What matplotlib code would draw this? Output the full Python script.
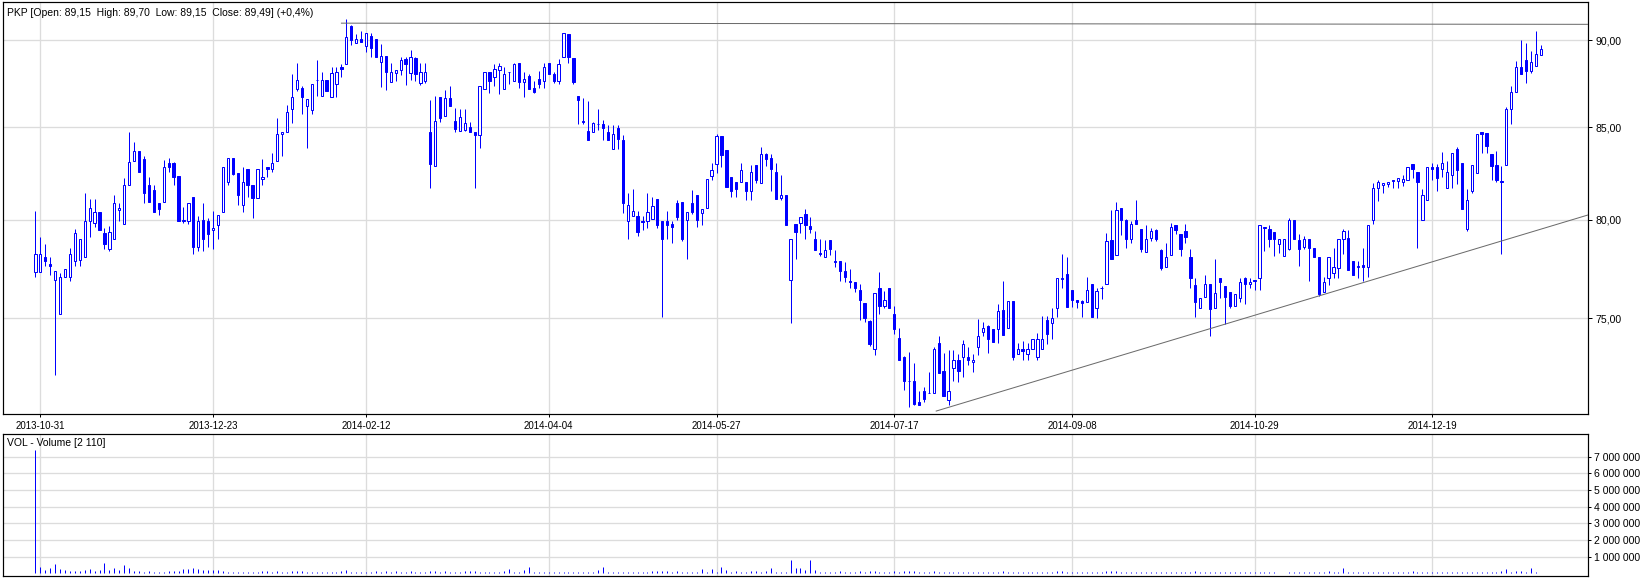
import matplotlib
matplotlib.use("Agg")
import matplotlib.pyplot as plt
from matplotlib.ticker import FixedLocator, NullLocator, FuncFormatter

plt.rcParams['font.family'] = ['Liberation Sans', 'DejaVu Sans']

# ---------------- data ----------------
ticker = "PKP"
change_pct = "+0,4%"

open_ = [
    77.29, 77.29, 78.05, 77.71, 76.92, 75.20, 77.08, 77.08, 77.85, 77.93,
    78.05, 79.92, 79.83, 80.41, 79.32, 78.51, 79.02, 80.50, 79.78, 81.85,
    83.15, 83.69, 83.24, 81.85, 81.58, 80.90, 80.95, 83.06, 83.06, 82.35,
    79.92, 79.92, 81.22, 78.61, 79.97, 79.95, 79.46, 79.71, 80.41, 82.00,
    83.29, 82.49, 80.77, 82.71, 81.87, 81.17, 82.16, 82.84, 82.71, 83.15,
    84.64, 84.76, 86.05, 87.14, 87.23, 86.22, 85.95, 87.69, 86.76, 87.69,
    86.72, 87.46, 88.44, 88.61, 90.85, 89.80, 90.06, 89.67, 90.24, 90.06,
    88.70, 89.07, 87.55, 88.05, 88.24, 88.88, 88.05, 88.97, 87.51, 87.64,
    84.73, 82.89, 86.72, 85.61, 86.66, 85.36, 84.82, 84.86, 85.00, 84.73,
    84.55, 87.14, 88.15, 87.84, 88.24, 87.14, 88.13, 87.64, 88.63, 87.58,
    87.93, 87.20, 87.71, 87.64, 88.63, 88.03, 87.64, 89.03, 90.35, 88.97,
    86.75, 85.36, 84.80, 84.71, 85.19, 85.19, 84.73, 83.78, 84.95, 84.28,
    79.92, 80.22, 80.22, 79.95, 79.92, 80.03, 81.08, 79.95, 79.92, 79.80,
    80.90, 80.95, 79.97, 80.90, 81.29, 80.36, 80.61, 82.34, 82.97, 84.53,
    83.72, 82.25, 82.03, 82.03, 82.03, 81.53, 82.95, 81.96, 83.51, 83.29,
    82.57, 81.17, 81.29, 76.92, 79.80, 79.83, 80.29, 79.69, 79.02, 78.27,
    78.10, 78.93, 77.85, 77.85, 77.34, 76.85, 76.83, 76.39, 75.78, 74.87,
    73.52, 76.53, 75.61, 76.53, 75.20, 74.05, 73.13, 71.98, 71.98, 70.98,
    71.52, 71.41, 71.41, 73.81, 72.48, 71.07, 72.59, 72.98, 73.14, 73.13,
    72.90, 73.62, 74.35, 74.64, 74.48, 74.48, 75.40, 74.52, 75.86, 73.27,
    73.52, 73.25, 73.52, 73.14, 73.52, 74.92, 74.76, 75.49, 76.97, 77.20,
    76.39, 75.92, 75.88, 75.83, 76.73, 75.49, 76.51, 76.73, 78.93, 78.17,
    80.60, 79.97, 79.02, 79.97, 79.53, 78.31, 79.07, 79.49, 78.42, 77.56,
    78.17, 79.75, 79.24, 79.44, 78.10, 76.66, 75.49, 76.05, 76.69, 75.49,
    77.03, 76.61, 76.32, 75.63, 76.02, 77.03, 76.73, 76.93, 77.03, 79.58,
    79.53, 79.37, 78.76, 78.14, 78.47, 80.00, 78.93, 78.61, 79.02, 78.56,
    78.05, 76.32, 77.03, 77.25, 77.51, 79.02, 79.07, 77.88, 77.54, 77.66,
    77.54, 79.97, 81.67, 81.87, 81.92, 82.08, 82.08, 82.03, 82.12, 82.97,
    82.53, 79.97, 81.04, 82.84, 82.79, 82.71, 81.71, 82.39, 83.81, 83.02,
    79.53, 81.53, 82.48, 84.71, 84.67, 83.54, 82.93, 82.03, 82.95, 86.03,
    87.00, 88.44, 88.84, 88.19, 88.47, 89.15,
]

high = [
    80.45, 79.10, 78.76, 78.05, 77.34, 77.25, 77.46, 78.53, 79.54, 79.02,
    81.40, 81.08, 81.08, 80.41, 79.58, 79.69, 81.29, 80.90, 82.21, 84.73,
    84.19, 83.69, 83.42, 82.30, 81.85, 80.90, 83.20, 83.33, 83.11, 82.35,
    80.68, 80.90, 81.22, 80.21, 80.90, 80.09, 80.45, 80.27, 82.84, 83.29,
    83.29, 82.49, 82.79, 82.71, 81.87, 82.71, 83.24, 82.84, 83.60, 85.51,
    84.71, 86.24, 88.00, 88.63, 87.33, 86.60, 87.46, 88.85, 88.15, 87.69,
    88.44, 88.44, 88.57, 91.25, 90.88, 90.35, 90.55, 90.39, 90.39, 90.06,
    89.74, 89.07, 88.63, 88.24, 89.03, 89.03, 89.42, 89.03, 88.63, 88.63,
    86.56, 86.75, 86.72, 87.08, 87.33, 86.09, 86.03, 86.00, 85.29, 84.73,
    87.35, 88.15, 88.15, 88.57, 88.63, 88.44, 88.15, 88.67, 88.63, 88.13,
    88.00, 87.64, 88.17, 88.63, 88.63, 88.15, 88.89, 90.39, 90.35, 88.97,
    86.75, 86.66, 86.50, 85.29, 86.03, 85.42, 85.13, 85.13, 85.13, 84.59,
    81.40, 81.62, 80.45, 80.21, 81.40, 81.22, 81.08, 79.95, 80.45, 79.95,
    81.03, 80.95, 80.41, 81.56, 81.29, 80.58, 82.16, 83.02, 84.64, 84.53,
    83.72, 82.25, 82.03, 83.02, 82.03, 82.93, 82.95, 83.90, 83.56, 83.51,
    83.02, 82.39, 81.29, 79.02, 79.80, 80.16, 80.56, 80.16, 79.44, 79.02,
    78.93, 78.93, 78.42, 77.85, 77.80, 77.46, 76.83, 76.73, 75.78, 74.92,
    76.27, 77.29, 76.34, 76.53, 75.59, 74.52, 73.17, 73.38, 72.83, 71.49,
    71.68, 72.43, 73.62, 74.16, 73.33, 73.46, 73.46, 73.27, 73.92, 73.62,
    73.27, 74.97, 74.81, 74.68, 74.48, 75.71, 76.86, 75.86, 75.86, 73.81,
    73.89, 73.81, 74.00, 74.29, 75.11, 75.11, 75.49, 77.00, 78.22, 78.05,
    76.39, 75.92, 75.92, 77.08, 76.73, 76.49, 76.61, 79.29, 80.49, 80.94,
    80.63, 80.05, 79.95, 81.04, 79.53, 79.75, 79.58, 79.54, 78.51, 78.78,
    79.83, 79.75, 79.24, 79.80, 78.47, 77.03, 76.00, 77.15, 76.69, 77.97,
    77.03, 76.61, 76.32, 76.22, 77.03, 77.08, 77.03, 76.93, 79.71, 79.63,
    79.75, 79.37, 79.02, 79.02, 80.12, 80.00, 79.24, 79.15, 79.02, 78.56,
    78.05, 77.08, 78.05, 78.53, 79.02, 79.53, 79.49, 77.88, 77.88, 78.52,
    79.75, 81.94, 82.12, 81.94, 82.03, 82.12, 82.21, 82.39, 82.84, 82.97,
    82.53, 81.62, 82.79, 83.02, 82.97, 83.63, 83.15, 83.56, 83.92, 83.02,
    81.62, 82.93, 84.64, 84.76, 84.67, 83.54, 83.69, 82.88, 86.15, 87.35,
    88.80, 90.00, 89.80, 89.36, 90.53, 89.70,
]

low = [
    77.07, 77.29, 77.63, 77.17, 72.27, 75.20, 77.08, 76.86, 77.63, 77.63,
    78.05, 79.10, 79.61, 79.46, 78.51, 78.39, 79.02, 79.92, 79.78, 81.85,
    83.15, 82.55, 80.90, 80.95, 80.41, 80.27, 80.95, 82.55, 81.85, 79.92,
    79.83, 79.78, 78.25, 78.36, 78.36, 78.61, 78.51, 79.02, 80.41, 81.85,
    82.40, 80.77, 80.41, 81.21, 80.11, 81.17, 81.85, 82.27, 82.55, 83.15,
    83.42, 84.76, 85.23, 87.04, 85.76, 83.87, 85.74, 86.76, 86.76, 87.04,
    86.72, 86.70, 87.84, 88.61, 89.71, 89.80, 89.86, 89.32, 89.03, 89.03,
    87.30, 87.12, 87.55, 87.64, 87.99, 87.36, 87.69, 87.64, 87.36, 87.49,
    81.67, 82.89, 85.29, 85.61, 86.18, 84.71, 84.82, 84.82, 84.71, 81.67,
    83.87, 87.14, 86.91, 87.33, 86.85, 87.14, 87.42, 87.64, 87.20, 86.70,
    87.14, 86.91, 87.20, 87.23, 88.00, 87.49, 87.42, 89.03, 88.63, 87.46,
    85.19, 85.19, 84.28, 84.71, 84.86, 84.28, 84.28, 83.78, 83.78, 80.36,
    79.02, 80.22, 79.15, 79.49, 79.58, 80.03, 79.58, 75.08, 79.02, 78.78,
    80.00, 78.90, 77.97, 80.31, 79.61, 79.75, 80.61, 82.12, 82.48, 82.82,
    81.76, 81.21, 81.21, 82.03, 81.03, 81.04, 81.96, 81.96, 82.88, 81.53,
    81.08, 81.03, 79.71, 74.76, 77.97, 79.32, 79.02, 79.29, 78.41, 78.14,
    78.10, 78.19, 77.54, 76.86, 76.81, 76.53, 76.29, 74.92, 74.81, 73.65,
    73.22, 75.22, 75.49, 75.53, 74.24, 73.00, 71.57, 70.79, 70.87, 70.84,
    70.98, 71.41, 71.41, 72.36, 71.30, 70.87, 72.00, 71.93, 72.15, 72.75,
    72.43, 73.22, 74.13, 73.33, 73.84, 73.81, 74.17, 74.52, 73.00, 73.27,
    73.00, 73.00, 73.52, 73.00, 73.52, 73.76, 74.00, 75.08, 76.49, 75.54,
    75.54, 75.49, 75.08, 75.83, 75.08, 75.03, 75.97, 76.73, 77.95, 78.17,
    79.20, 78.52, 78.78, 79.78, 78.31, 78.31, 78.90, 78.90, 77.41, 77.56,
    78.17, 79.24, 78.14, 78.78, 76.49, 75.08, 75.49, 76.05, 74.13, 75.49,
    75.99, 74.73, 75.49, 75.60, 75.83, 75.73, 76.49, 76.41, 76.41, 78.39,
    78.61, 78.14, 78.27, 78.14, 78.42, 79.02, 77.63, 78.47, 76.86, 78.05,
    76.10, 76.32, 76.66, 77.03, 77.03, 78.22, 77.42, 77.17, 77.03, 76.86,
    77.08, 79.78, 81.00, 81.44, 81.76, 81.67, 81.67, 81.80, 82.12, 82.21,
    78.56, 79.97, 81.04, 82.12, 81.53, 82.28, 81.71, 81.71, 81.89, 80.58,
    79.44, 81.44, 82.48, 83.60, 83.60, 82.12, 82.03, 78.25, 82.95, 85.17,
    87.00, 88.03, 87.49, 88.05, 88.47, 89.15,
]

close = [
    78.22, 78.22, 77.88, 77.63, 77.34, 77.08, 77.46, 78.22, 79.32, 79.02,
    79.95, 80.61, 80.41, 79.46, 78.76, 79.37, 80.90, 80.61, 81.85, 83.11,
    83.69, 82.55, 81.40, 80.95, 80.41, 80.58, 82.84, 82.84, 82.30, 79.92,
    79.97, 80.90, 78.61, 79.92, 79.02, 79.27, 79.58, 80.27, 82.84, 83.29,
    82.44, 81.31, 82.00, 81.87, 81.17, 82.71, 82.27, 82.71, 83.06, 84.64,
    84.71, 85.86, 86.72, 87.69, 86.72, 86.60, 87.46, 87.69, 87.69, 87.04,
    88.09, 88.15, 88.28, 90.15, 90.00, 90.06, 89.86, 90.39, 89.55, 89.03,
    89.07, 88.13, 88.13, 88.24, 88.84, 88.61, 89.03, 88.03, 88.13, 88.15,
    82.98, 85.36, 85.51, 86.66, 86.18, 84.89, 85.57, 85.23, 84.71, 84.55,
    87.35, 88.15, 87.64, 88.28, 88.51, 88.00, 88.15, 88.57, 87.58, 87.73,
    87.14, 87.01, 87.42, 88.44, 88.00, 87.64, 88.61, 90.39, 89.00, 87.58,
    86.56, 85.27, 84.28, 85.23, 85.19, 84.95, 84.28, 84.64, 84.35, 80.90,
    80.77, 80.45, 79.37, 79.88, 80.40, 80.75, 79.71, 79.02, 79.71, 79.61,
    80.14, 78.98, 80.41, 80.40, 79.97, 80.58, 82.16, 82.66, 84.53, 83.47,
    81.76, 81.53, 81.62, 82.66, 81.53, 82.53, 82.14, 83.51, 83.27, 82.71,
    81.08, 81.31, 79.75, 79.02, 79.36, 80.16, 79.71, 79.53, 78.41, 78.25,
    78.42, 78.51, 77.83, 77.34, 77.05, 76.83, 76.50, 75.92, 75.00, 73.73,
    76.27, 75.61, 75.90, 75.53, 74.49, 73.00, 71.96, 71.98, 70.90, 70.87,
    71.13, 71.43, 73.52, 72.36, 71.30, 71.52, 72.98, 72.48, 73.73, 73.00,
    73.00, 74.16, 74.52, 73.97, 73.84, 75.35, 74.17, 75.86, 73.13, 73.52,
    73.41, 73.52, 74.00, 74.00, 74.00, 74.21, 75.00, 77.00, 77.03, 75.54,
    75.92, 75.83, 75.78, 76.41, 75.08, 76.36, 76.53, 78.90, 77.95, 80.49,
    79.97, 79.02, 79.78, 79.78, 78.51, 79.02, 79.44, 79.02, 77.51, 78.05,
    79.63, 79.49, 78.51, 79.10, 77.03, 75.83, 76.00, 76.69, 75.46, 76.27,
    76.81, 76.07, 75.63, 76.22, 76.83, 76.73, 76.83, 76.86, 79.71, 79.63,
    79.02, 79.02, 79.02, 79.02, 80.00, 79.02, 78.51, 79.02, 78.56, 78.05,
    76.19, 76.83, 78.05, 77.54, 79.02, 79.41, 77.42, 77.17, 77.63, 77.54,
    79.75, 81.67, 82.03, 81.94, 82.03, 82.08, 82.21, 82.16, 82.84, 82.71,
    82.03, 81.31, 82.79, 82.71, 82.21, 83.02, 82.53, 83.56, 82.66, 80.58,
    81.04, 82.93, 84.64, 84.62, 83.99, 82.89, 82.12, 82.03, 86.03, 87.00,
    88.44, 88.03, 88.19, 88.70, 89.17, 89.49,
]

# volume in millions of shares (last session: 2 110 shares)
volume_m = [
    7.41, 0.40, 0.20, 0.33, 0.56, 0.25, 0.19, 0.15, 0.15, 0.15,
    0.20, 0.25, 0.17, 0.20, 0.62, 0.20, 0.32, 0.20, 0.50, 0.32,
    0.14, 0.14, 0.08, 0.14, 0.08, 0.08, 0.08, 0.14, 0.14, 0.14,
    0.25, 0.25, 0.32, 0.25, 0.19, 0.19, 0.20, 0.20, 0.14, 0.08,
    0.08, 0.08, 0.08, 0.08, 0.08, 0.08, 0.14, 0.14, 0.08, 0.14,
    0.08, 0.08, 0.14, 0.14, 0.14, 0.08, 0.08, 0.08, 0.08, 0.08,
    0.08, 0.08, 0.14, 0.20, 0.08, 0.08, 0.08, 0.08, 0.08, 0.14,
    0.08, 0.14, 0.08, 0.14, 0.08, 0.08, 0.14, 0.08, 0.08, 0.08,
    0.14, 0.14, 0.08, 0.14, 0.08, 0.08, 0.08, 0.14, 0.14, 0.14,
    0.08, 0.08, 0.08, 0.08, 0.08, 0.14, 0.26, 0.08, 0.08, 0.20,
    0.38, 0.08, 0.08, 0.08, 0.08, 0.08, 0.08, 0.08, 0.08, 0.08,
    0.08, 0.08, 0.08, 0.08, 0.20, 0.38, 0.08, 0.08, 0.08, 0.08,
    0.08, 0.08, 0.08, 0.08, 0.08, 0.14, 0.14, 0.14, 0.14, 0.08,
    0.14, 0.08, 0.08, 0.08, 0.08, 0.26, 0.08, 0.26, 0.08, 0.38,
    0.20, 0.08, 0.14, 0.08, 0.08, 0.14, 0.14, 0.08, 0.14, 0.32,
    0.08, 0.08, 0.08, 0.78, 0.32, 0.32, 0.20, 0.78, 0.20, 0.08,
    0.08, 0.10, 0.08, 0.12, 0.08, 0.08, 0.10, 0.12, 0.10, 0.14,
    0.16, 0.10, 0.08, 0.10, 0.12, 0.10, 0.14, 0.16, 0.12, 0.10,
    0.08, 0.08, 0.14, 0.10, 0.08, 0.10, 0.08, 0.08, 0.10, 0.08,
    0.08, 0.10, 0.08, 0.08, 0.08, 0.10, 0.12, 0.08, 0.10, 0.08,
    0.08, 0.08, 0.08, 0.08, 0.10, 0.08, 0.08, 0.12, 0.14, 0.10,
    0.08, 0.08, 0.08, 0.08, 0.08, 0.08, 0.08, 0.14, 0.12, 0.14,
    0.10, 0.08, 0.08, 0.10, 0.08, 0.08, 0.08, 0.08, 0.10, 0.08,
    0.10, 0.08, 0.08, 0.08, 0.10, 0.12, 0.08, 0.08, 0.10, 0.08,
    0.08, 0.08, 0.08, 0.08, 0.08, 0.08, 0.08, 0.08, 0.10, 0.08,
    0.08, 0.06, 0.05, 0.05, 0.08, 0.08, 0.08, 0.08, 0.08, 0.08,
    0.08, 0.08, 0.14, 0.08, 0.08, 0.30, 0.08, 0.08, 0.10, 0.08,
    0.08, 0.10, 0.08, 0.08, 0.08, 0.08, 0.08, 0.08, 0.08, 0.12,
    0.08, 0.08, 0.08, 0.08, 0.08, 0.08, 0.08, 0.08, 0.08, 0.08,
    0.08, 0.08, 0.08, 0.08, 0.08, 0.08, 0.08, 0.12, 0.25, 0.08,
    0.14, 0.14, 0.08, 0.30, 0.10, 0.00211,
]

# x-axis date labels and the session they belong to
tick_labels = ["2013-10-31", "2013-12-23", "2014-02-12", "2014-04-04", "2014-05-27",
               "2014-07-17", "2014-09-08", "2014-10-29", "2014-12-19"]
tick_session = [1, 36, 67, 104, 138, 174, 210, 247, 283]

price_ticks = [75, 80, 85, 90]
volume_ticks = [1e6, 2e6, 3e6, 4e6, 5e6, 6e6, 7e6]

# user-drawn lines: (session, price) end points
resistance_line = [(62.0, 91.00), (314.5, 90.93)]
support_line = [(182.5, 70.58), (314.5, 80.25)]

# ---------------- figure ----------------
W, H = 1650, 579
fig = plt.figure(figsize=(W / 100, H / 100), dpi=100)


def frac(l, t, r, b):
    return [l / W, 1 - b / H, (r - l) / W, (b - t) / H]


ax = fig.add_axes(frac(3.3, 2, 1588, 414.3))
axv = fig.add_axes(frac(3.3, 434.3, 1588, 575.5))

BLUE = '#0000ff'
GRID = '#dcdcdc'
LINE = '#6a6a6a'
PX = 0.72  # one pixel in points
FS_X = 7.0
FS_Y = 7.6
FS_HEAD = 7.5

n = len(close)
xs = list(range(n))
volume = [v * 1e6 for v in volume_m]

# wicks
ax.vlines(xs, low, high, color=BLUE, linewidth=1.0 * PX, zorder=3)
# bodies
bottoms = [min(o, c) for o, c in zip(open_, close)]
heights = [max(abs(c - o), 0.012) for o, c in zip(open_, close)]
faces = ['white' if c > o else BLUE for o, c in zip(open_, close)]
ax.bar(xs, heights, bottom=bottoms, width=0.46, color=faces, edgecolor=BLUE,
       linewidth=PX, zorder=4)

# user lines
ax.plot([p[0] for p in resistance_line], [p[1] for p in resistance_line],
        color=LINE, linewidth=1.0 * PX, zorder=5)
ax.plot([p[0] for p in support_line], [p[1] for p in support_line],
        color=LINE, linewidth=1.0 * PX, zorder=5)

xlim = (-6.5, 314.55)
ax.set_yscale('log')
ax.set_xlim(*xlim)
ax.set_ylim(70.43, 92.27)
ax.yaxis.set_major_locator(FixedLocator(price_ticks))
ax.yaxis.set_minor_locator(NullLocator())
ax.yaxis.set_major_formatter(FuncFormatter(lambda v, p: f"{v:.2f}".replace('.', ',')))
ax.yaxis.set_minor_formatter(FuncFormatter(lambda v, p: ""))
ax.yaxis.tick_right()
ax.set_xticks(tick_session)
ax.set_xticklabels(tick_labels)
ax.tick_params(axis='x', direction='out', length=3 * PX, width=PX, pad=2.5, labelsize=FS_X)
ax.tick_params(axis='y', direction='out', length=4 * PX, width=PX, pad=2.2, labelsize=FS_Y)
ax.grid(True, color=GRID, linewidth=1.0 * PX * 1.3, zorder=0)
ax.set_axisbelow(True)
for s in ax.spines.values():
    s.set_linewidth(1.2 * PX)
    s.set_color('black')

# volume panel
axv.vlines(xs, 0, volume, color=BLUE, linewidth=1.0 * PX, zorder=3)
axv.set_xlim(*xlim)
axv.set_ylim(-0.126e6, 8.34e6)
axv.yaxis.set_major_locator(FixedLocator(volume_ticks))
axv.yaxis.set_major_formatter(FuncFormatter(lambda v, p: f"{int(round(v)):,}".replace(',', ' ')))
axv.yaxis.tick_right()
axv.set_xticks(tick_session)
axv.set_xticklabels([])
axv.tick_params(axis='x', length=0)
axv.tick_params(axis='y', direction='out', length=3 * PX, width=PX, pad=2.2, labelsize=FS_Y)
axv.grid(True, color=GRID, linewidth=1.0 * PX * 1.3, zorder=0)
axv.set_axisbelow(True)
for s in axv.spines.values():
    s.set_linewidth(1.2 * PX)
    s.set_color('black')


def fmt(v):
    return f"{v:.2f}".replace('.', ',')


header = (f"{ticker} [Open: {fmt(open_[-1])}  High: {fmt(high[-1])}  "
          f"Low: {fmt(low[-1])}  Close: {fmt(close[-1])}] ({change_pct})")
fig.text(7 / W, 1 - 12.7 / H, header, fontsize=FS_HEAD, ha='left', va='center')
vol_last = f"{int(round(volume[-1])):,}".replace(',', ' ')
fig.text(7.3 / W, 1 - 443.3 / H, f"VOL - Volume [{vol_last}]", fontsize=FS_HEAD,
         ha='left', va='center')

fig.savefig("out.png", dpi=100, facecolor='white')
